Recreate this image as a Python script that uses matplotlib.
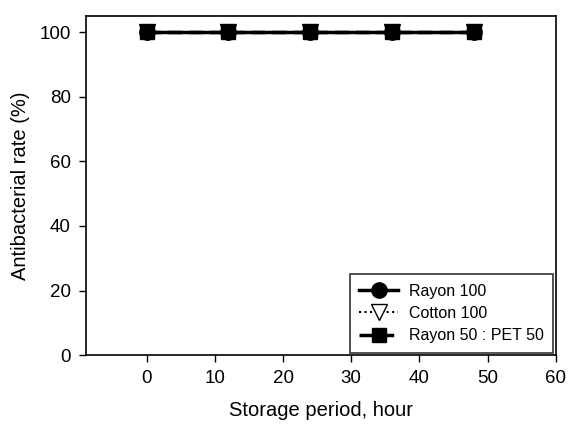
import matplotlib
matplotlib.use('Agg')
import matplotlib.pyplot as plt
import numpy as np

plt.rcParams['font.family'] = ['Liberation Sans', 'DejaVu Sans']

# storage time (hour) and antibacterial rate (%)
hours = [0, 12, 24, 36, 48]
rayon100 = [100, 100, 100, 100, 100]
cotton100 = [100, 100, 100, 100, 100]
rayon_pet = [100, 100, 100, 100, 100]

series_names = ['Rayon 100', 'Cotton 100', 'Rayon 50 : PET 50']

fig = plt.figure(figsize=(5.85, 4.30), dpi=100)
ax = fig.add_axes([0.147, 0.174, 0.803, 0.789])

ax.plot(hours, rayon100, color='black', linestyle='-', linewidth=2.5,
        marker='o', markersize=11, markerfacecolor='black', label=series_names[0])
ax.plot(hours, cotton100, color='black', linestyle=':', linewidth=1.5,
        marker='v', markersize=11, markerfacecolor='white', label=series_names[1])
ax.plot(hours, rayon_pet, color='black', linestyle=(0, (4, 2)), linewidth=2.5,
        marker='s', markersize=10, markerfacecolor='black', label=series_names[2])

ax.set_xlim(-8.9, 60)
ax.set_ylim(0, 105)
ax.set_xticks([0, 10, 20, 30, 40, 50, 60])
ax.set_yticks([0, 20, 40, 60, 80, 100])
ax.tick_params(axis='both', direction='out', length=5, width=1, labelsize=13.5,
               top=False, right=False, pad=6)

for sp in ax.spines.values():
    sp.set_linewidth(1.2)

ax.set_xlabel('Storage period, hour', fontsize=14.5, labelpad=10)
ax.set_ylabel('Antibacterial rate (%)', fontsize=14.5, labelpad=7)

leg = ax.legend(loc='lower right', fontsize=11.5, frameon=True, fancybox=False,
                edgecolor='black', handlelength=2.4, borderaxespad=0.15,
                labelspacing=0.45, borderpad=0.6, handletextpad=0.7)
leg.get_frame().set_linewidth(1.2)

fig.savefig('out.png', dpi=100)
plt.close(fig)
